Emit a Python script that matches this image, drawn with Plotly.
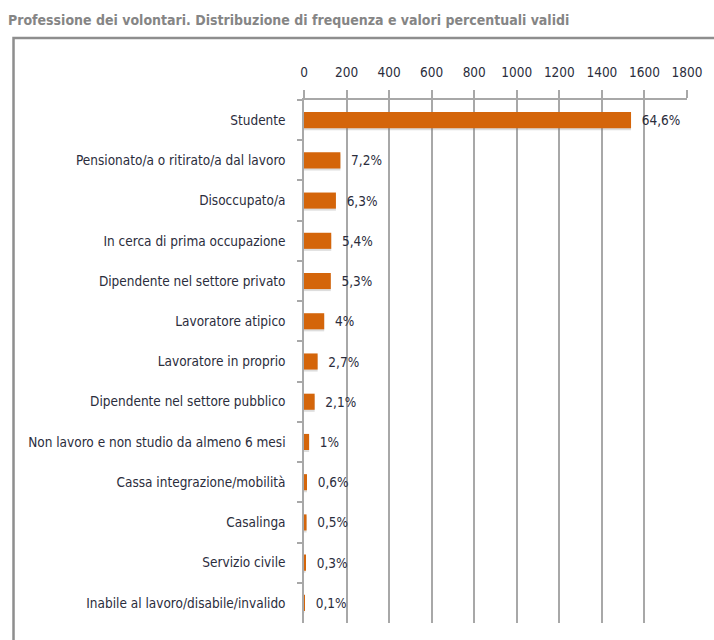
import plotly.graph_objects as go

categories = [
    "Studente",
    "Pensionato/a o ritirato/a dal lavoro",
    "Disoccupato/a",
    "In cerca di prima occupazione",
    "Dipendente nel settore privato",
    "Lavoratore atipico",
    "Lavoratore in proprio",
    "Dipendente nel settore pubblico",
    "Non lavoro e non studio da almeno 6 mesi",
    "Cassa integrazione/mobilità",
    "Casalinga",
    "Servizio civile",
    "Inabile al lavoro/disabile/invalido",
]
counts = [1537, 171, 150, 128, 126, 95, 64, 50, 24, 14, 12, 7, 2]
pct_labels = ["64,6%", "7,2%", "6,3%", "5,4%", "5,3%", "4%", "2,7%", "2,1%",
              "1%", "0,6%", "0,5%", "0,3%", "0,1%"]
x_ticks = [0, 200, 400, 600, 800, 1000, 1200, 1400, 1600, 1800]

FONT = "DejaVu Sans Condensed"
TXT = "#2b2d3c"
GRID = "#a8a8a8"

fig = go.Figure()
# soft shadow
fig.add_trace(go.Bar(
    y=categories, x=counts, orientation="h", width=0.4,
    marker=dict(color="rgba(120,120,120,0.25)", line=dict(width=0)),
    offset=-0.15, hoverinfo="skip", showlegend=False,
))
fig.add_trace(go.Bar(
    y=categories, x=counts, orientation="h", width=0.4,
    marker=dict(color="#D4650A", line=dict(width=0)),
    offset=-0.2,
    text=["  " + t for t in pct_labels], textposition="outside",
    textfont=dict(family=FONT, size=13.5, color=TXT),
    cliponaxis=False, showlegend=False,
))

fig.update_layout(
    width=714, height=640,
    margin=dict(l=304, r=25, t=100, b=17),
    paper_bgcolor="white", plot_bgcolor="white",
    barmode="overlay",
    bargap=0.6,
    title=dict(
        text="<b>Professione dei volontari. Distribuzione di frequenza e valori percentuali validi</b>",
        xref="container", yref="container", x=8 / 714, y=1 - 20 / 640,
        xanchor="left", yanchor="middle",
        font=dict(family=FONT, size=14, color="#858585"),
    ),
    xaxis=dict(
        side="top", range=[0, 1800], tickvals=x_ticks,
        ticktext=[str(v) for v in x_ticks],
        showgrid=True, gridcolor=GRID, gridwidth=1.5,
        showline=True, linecolor=GRID, linewidth=1.5,
        ticks="outside", ticklen=8, tickcolor=GRID, tickwidth=1.5,
        ticklabelstandoff=8,
        tickfont=dict(family=FONT, size=13.5, color=TXT),
        zeroline=False, fixedrange=True,
    ),
    yaxis=dict(
        categoryorder="array", categoryarray=categories,
        autorange="reversed",
        showline=True, linecolor=GRID, linewidth=1.5,
        ticks="outside", ticklen=5, tickcolor=GRID, tickwidth=1.5,
        tickson="boundaries", ticklabelstandoff=14,
        tickfont=dict(family=FONT, size=13.5, color=TXT),
        showgrid=False, fixedrange=True,
    ),
    shapes=[dict(
        type="rect", xref="paper", yref="paper",
        x0=(12 - 304) / 385, x1=(730 - 304) / 385,
        y0=-0.2, y1=1 + (100 - 38) / 523,
        line=dict(color="#8e8e8e", width=2.5), layer="below",
    )],
)

fig.write_html("out.html")
